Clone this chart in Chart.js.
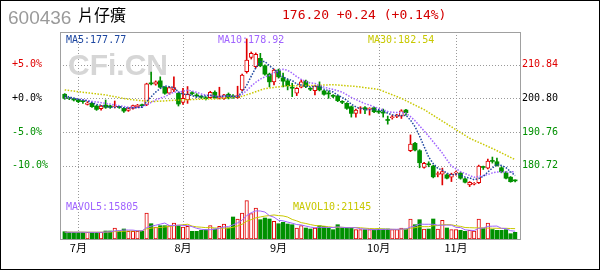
<!DOCTYPE html>
<html><head><meta charset="utf-8">
<script src="https://cdn.jsdelivr.net/npm/chart.js@4/dist/chart.umd.min.js"></script>
<style>html,body{margin:0;padding:0;background:#fff}canvas{display:block}</style>
</head><body>
<canvas id="c" width="600" height="270"></canvas>
<script>
// ---- data ----
const OPEN  = [202.0,200.9,200.7,200.3,200.0,199.0,199.3,198.5,197.7,198.8,198.35,198.2,198.2,197.8,197.2,197.8,198.3,198.7,198.8,205.4,
  205.0,206.0,204.1,202.3,203.3,202.3,199.6,200.3,202.4,201.7,201.3,200.9,201.0,202.6,200.8,200.8,202.0,201.4,201.0,203.3,
  208.7,212.95,210.2,212.7,210.5,208.0,205.7,209.2,206.9,206.0,204.0,202.3,204.1,205.9,203.7,203.1,204.5,203.0,202.3,201.6,
  201.5,199.8,199.3,198.3,196.3,197.7,197.9,197.5,198.0,196.9,196.6,194.4,195.0,195.4,195.5,197.3,185.2,187.4,185.2,180.2,
  181.2,180.6,178.1,178.2,178.0,177.3,178.5,178.5,176.8,175.0,175.2,175.7,180.3,180.0,182.2,181.9,180.1,178.6,177.3,176.3];
const HIGH  = [202.2,201.1,200.9,200.5,200.3,199.8,199.5,198.7,198.7,200.3,198.7,200.0,198.4,198.0,198.0,198.8,199.0,199.1,205.3,208.6,
  206.0,207.2,204.3,204.2,207.2,202.5,203.8,204.3,202.8,202.2,201.6,201.3,202.9,203.0,204.1,202.0,202.4,201.9,204.4,208.0,
  218.5,214.6,214.3,214.2,210.8,208.3,209.5,209.5,208.3,206.5,205.3,204.0,206.3,206.2,204.0,204.7,205.7,203.2,203.0,201.9,
  201.7,200.1,199.5,198.5,197.6,198.3,198.3,198.0,198.2,197.2,197.6,195.5,195.8,196.0,197.4,197.5,189.9,187.7,185.5,181.7,
  181.9,180.9,178.9,180.0,178.3,178.5,179.1,178.8,177.0,176.0,175.7,180.9,180.6,182.7,183.3,183.0,180.4,179.0,177.5,176.5];
const LOW   = [200.5,200.4,200.0,199.5,199.3,198.8,198.1,197.2,197.3,197.8,197.8,197.9,197.8,196.6,196.9,197.6,198.1,198.1,198.6,204.8,
  204.7,203.9,202.0,202.0,202.8,198.5,199.0,199.3,201.8,201.2,200.8,200.3,200.8,200.8,200.6,200.5,200.6,200.8,200.8,203.0,
  208.3,212.5,209.8,210.2,207.7,204.2,204.8,206.8,204.2,203.3,201.3,201.6,203.9,204.0,203.1,201.8,203.0,201.7,200.8,201.0,
  199.8,199.2,197.5,195.2,195.2,196.3,196.2,195.8,196.5,196.3,195.2,193.1,194.6,195.0,194.8,195.8,184.9,185.1,180.1,180.0,
  180.4,177.1,177.4,175.0,176.8,176.0,177.9,176.7,175.6,174.5,175.0,175.4,179.6,179.8,181.5,180.6,178.6,176.8,175.8,175.9];
const CLOSE = [200.8,200.7,200.3,199.8,199.8,199.4,198.3,197.5,198.5,198.1,198.25,198.4,198.1,197.0,197.7,198.6,198.8,198.6,205.1,205.1,
  205.7,204.1,202.3,204.0,204.0,199.1,200.8,202.0,202.2,201.5,201.1,200.7,202.6,201.0,201.3,201.8,200.9,201.2,201.6,207.7,
  212.2,214.2,213.9,210.5,208.0,205.7,209.2,207.2,205.9,204.5,203.8,203.8,205.7,204.3,203.5,204.5,203.3,202.0,202.1,201.4,
  200.1,199.6,197.8,196.3,197.3,197.9,197.7,197.7,196.8,196.7,196.4,194.2,195.2,195.6,197.1,196.5,187.2,185.4,181.6,181.4,
  181.0,177.4,178.3,179.0,177.0,178.2,178.7,177.0,175.8,175.8,175.4,180.6,180.2,182.1,182.0,180.8,178.9,177.0,175.96,176.2];
const VOLUME = [14890,13670,13670,13670,13670,13670,13670,13670,13670,16320,16320,22440,16320,20400,15710,15710,15710,15710,53040,31210,
  24480,27130,27130,27130,32640,27130,24480,25910,15710,15710,17750,18970,27130,20400,25910,30600,22440,44880,40800,53040,
  78130,51610,63240,39370,42840,40800,36110,31210,34070,30600,29170,22440,27130,22440,20400,22440,27130,25910,22440,18970,
  29170,22440,22440,22440,18970,18970,18970,18970,18970,20400,20400,20400,18970,18970,22440,20400,40800,29170,39370,20400,
  20400,40800,20400,38150,22440,18970,18970,17750,15710,17750,16320,40800,21420,32640,19380,17750,17750,18970,10810,13670];
const MA5 = [201.6,201.2,200.8,200.5,200.28,200.00,199.52,198.96,198.70,198.36,198.13,198.15,198.27,197.97,197.89,197.96,198.04,198.14,199.76,201.24,
  202.66,203.72,204.46,204.24,204.02,202.70,202.04,201.98,201.62,201.12,201.52,201.50,201.62,201.38,201.34,201.48,201.52,201.24,201.36,202.64,
  204.72,207.38,209.92,211.70,211.76,210.46,209.46,208.12,207.20,206.50,206.12,205.04,204.74,204.42,204.22,204.36,204.26,203.52,203.08,202.66,
  201.78,201.04,200.20,199.04,198.22,197.78,197.40,197.38,197.48,197.36,197.06,196.36,195.86,195.62,195.70,195.72,194.32,192.36,189.56,186.42,
  183.32,181.36,179.94,179.42,178.54,177.98,178.24,177.98,177.34,177.10,176.54,176.92,177.56,178.82,180.06,181.14,180.80,180.16,178.93,177.77];
const MA10 = [201.0,200.9,200.8,200.6,200.4,200.2,199.9,199.7,199.5,199.32,199.07,198.84,198.62,198.34,198.13,198.05,198.10,198.21,198.87,199.57,
  200.31,200.88,201.30,202.00,202.63,202.68,202.88,203.22,202.93,202.57,202.11,201.77,201.80,201.50,201.23,201.50,201.51,201.43,201.37,201.99,
  203.10,204.45,205.58,206.53,207.20,207.59,208.42,209.02,209.45,209.13,208.29,207.25,206.43,205.81,205.36,205.24,204.65,204.13,203.75,203.44,
  203.07,202.65,201.86,201.06,200.44,199.78,199.22,198.79,198.26,197.79,197.42,196.88,196.62,196.55,196.53,196.39,195.34,194.11,192.59,191.06,
  189.52,187.84,186.15,184.49,182.48,180.65,179.80,178.96,178.38,177.82,177.26,177.58,177.77,178.08,178.58,178.84,178.86,178.86,178.88,178.92];
const MA30_IDX = [0,4,9,14,19,24,29,34,39,44,49,54,59,64,69,74,79,84,89,94,99];
const MA30_VAL = [203.3,202.6,201.8,200.5,199.8,200.2,200.49,200.66,201.38,203.69,204.56,204.60,204.85,204.33,203.45,200.78,197.43,193.15,188.89,185.86,182.54];
const MAVOL5 = [14080,13870,13870,13870,13910,13670,13670,13670,13670,14200,14730,16480,17010,18360,18240,18120,16770,16650,23170,26280,
  28030,30310,32600,27420,27700,28230,27700,27460,25170,21790,19910,18810,19050,19990,22030,24600,25300,28850,32930,38350,
  47860,53690,57360,57080,55040,47570,44470,38070,37010,34560,32230,29500,28680,26360,24320,22970,23910,23660,23660,23380,
  24720,23790,23090,23090,23090,21050,20360,19670,18970,19260,19540,19830,19830,19830,20240,20240,24320,26360,30440,30030,
  30030,30030,28270,28030,28440,28150,23790,23260,18770,17830,17300,21660,22400,25790,26110,26400,21790,21300,16930,15805];
const MAVOL10 = [14280,14280,14080,14080,14080,13870,13870,13870,13870,14060,14200,15080,15340,16010,16220,16420,16630,16830,20770,22260,
  23070,23540,24620,25300,26990,28130,29010,30030,26300,24750,24070,23260,23260,22580,21910,22260,22050,23950,26460,30190,
  36230,39490,43110,45000,46700,47720,49080,47720,47040,44800,39900,36990,33370,31680,29440,27600,26700,26170,25010,23850,
  23850,23850,23380,23380,23240,22890,22070,21380,21030,21180,20300,20090,19750,19400,19750,19890,22070,23090,25130,25130,
  25130,27170,27320,29230,29230,29090,26910,25770,23400,23130,22730,22730,22830,22280,21970,21850,21730,21850,21360,21145];
const MONTH_IDX = [3,26,47,69,86];
const MONTH_LABELS = ['7月','8月','9月','10月','11月'];
const PRICE_TICKS = [180.72,190.76,200.80,210.84];
const BASE_PRICE = 200.80;
const STOCK_CODE = '600436';
const STOCK_NAME = '片仔癀';
const QUOTE_TEXT = '176.20 +0.24 (+0.14%)';
const MA_TEXT = ['MA5:177.77','MA10:178.92','MA30:182.54'];
const VOL_TEXT = ['MAVOL5:15805','MAVOL10:21145'];

// ---- styles ----
const RED = '#e00000', GREEN = '#009000';
const C_MA5 = '#1c46a0', C_MA10 = '#a064ff', C_MA30 = '#c8c800';
const MONO = '"DejaVu Sans Mono", "Liberation Mono", monospace';
const up = CLOSE.map((c,i)=> c >= OPEN[i]);
const tickColor = v => (Math.abs(v-BASE_PRICE) < 0.01 ? '#000' : (v > BASE_PRICE ? RED : GREEN));

const decor = {
  id:'decor',
  beforeDatasetsDraw(chart){
    const ctx = chart.ctx, a = chart.chartArea;
    const xs = chart.scales.x, ys = chart.scales.y;
    ctx.save();
    // dotted grid, positioned through the chart's own scales
    ctx.strokeStyle = '#999';
    ctx.lineWidth = 1;
    ctx.setLineDash([1,2]);
    ctx.beginPath();
    PRICE_TICKS.forEach(v => {
      const y = Math.round(ys.getPixelForValue(v)) + 0.5;
      ctx.moveTo(a.left, y); ctx.lineTo(a.right, y);
    });
    MONTH_IDX.forEach(v => {
      const x = Math.round(xs.getPixelForValue(v)) + 0.5;
      ctx.moveTo(x, a.top); ctx.lineTo(x, a.bottom);
    });
    ctx.stroke();
    ctx.setLineDash([]);
    // watermark
    ctx.font = 'bold 30px "Liberation Sans", Arial, sans-serif';
    ctx.fillStyle = '#d6d6d6';
    ctx.textBaseline = 'alphabetic';
    ctx.fillText('CFi.CN', 68, 75);
    ctx.restore();
  },
  afterDraw(chart){
    const ctx = chart.ctx, a = chart.chartArea;
    ctx.save();
    ctx.lineWidth = 1;
    ctx.strokeStyle = '#a0a0a0';
    ctx.strokeRect(a.left+0.5, a.top+0.5, a.right-a.left, a.bottom-a.top);
    ctx.strokeStyle = '#000';
    ctx.strokeRect(0.5, 0.5, 599, 269);
    ctx.textBaseline = 'alphabetic';
    ctx.fillStyle = '#9a9a9a';
    ctx.font = '19px "Liberation Sans", Arial, sans-serif';
    ctx.fillText(STOCK_CODE, 8, 24);
    ctx.fillStyle = '#000';
    ctx.font = '16px "Noto Sans CJK TC", "Noto Sans CJK SC", sans-serif';
    ctx.fillText(STOCK_NAME, 78, 21);
    ctx.fillStyle = '#d40000';
    ctx.font = '13px ' + MONO;
    ctx.fillText(QUOTE_TEXT, 282, 19);
    ctx.font = '10px ' + MONO;
    ctx.fillStyle = C_MA5;  ctx.fillText(MA_TEXT[0], 66, 42.5);
    ctx.fillStyle = C_MA10; ctx.fillText(MA_TEXT[1], 218, 42.5);
    ctx.fillStyle = C_MA30; ctx.fillText(MA_TEXT[2], 368, 42.5);
    ctx.fillStyle = C_MA10; ctx.fillText(VOL_TEXT[0], 66, 210);
    ctx.fillStyle = C_MA30; ctx.fillText(VOL_TEXT[1], 293, 210);
    ctx.restore();
  }
};

const idx = CLOSE.map((_,i)=>i);
new Chart(document.getElementById('c'), {
  type:'bar',
  data:{ datasets:[
    { type:'line', data: idx.map(i=>({x:i,y:MA5[i]})), yAxisID:'y', borderColor:C_MA5, borderWidth:1.5, borderDash:[1.5,1.5], pointRadius:0, order:1 },
    { type:'line', data: idx.map(i=>({x:i,y:MA10[i]})), yAxisID:'y', borderColor:C_MA10, borderWidth:1.5, borderDash:[1.5,1.5], pointRadius:0, order:1 },
    { type:'line', data: MA30_IDX.map((x,k)=>({x, y:MA30_VAL[k]})), yAxisID:'y', borderColor:C_MA30, borderWidth:1.5, borderDash:[1.5,1.5], pointRadius:0, order:1 },
    { type:'line', data: idx.map(i=>({x:i,y:MAVOL5[i]})), yAxisID:'v', borderColor:C_MA10, borderWidth:1, pointRadius:0, order:1 },
    { type:'line', data: idx.map(i=>({x:i,y:MAVOL10[i]})), yAxisID:'v', borderColor:C_MA30, borderWidth:1, pointRadius:0, order:1 },
    { data: idx.map(i=>({x:i,y:[OPEN[i],CLOSE[i]]})), yAxisID:'y', grouped:false, barThickness:4, minBarLength:1,
      backgroundColor: idx.map(i=> up[i] ? '#fff' : GREEN), borderColor: idx.map(i=> up[i] ? RED : GREEN),
      borderWidth: idx.map(i=> up[i] ? 1 : 0), borderSkipped:false, order:3 },
    { data: idx.map(i=>({x:i,y:[LOW[i],HIGH[i]]})), yAxisID:'y', grouped:false, barThickness:1,
      backgroundColor: idx.map(i=> up[i] ? RED : GREEN), borderWidth:0, order:4 },
    { data: idx.map(i=>({x:i,y:VOLUME[i]})), yAxisID:'v', grouped:false, barThickness:3.5,
      backgroundColor: idx.map(i=> up[i] ? '#fff' : GREEN), borderColor: idx.map(i=> up[i] ? RED : GREEN),
      borderWidth: idx.map(i=> up[i] ? 1 : 0), borderSkipped:false, order:2 }
  ]},
  options:{
    responsive:false, devicePixelRatio:1, animation:false, events:[],
    layout:{ padding:{ left:12, right:1, top:32, bottom:1 } },
    plugins:{ legend:{display:false}, tooltip:{enabled:false} },
    scales:{
      x:{ type:'linear', min:-1.033, max:100.07, position:'bottom', offset:false,
        afterBuildTicks: s => { s.ticks = MONTH_IDX.map(v=>({value:v})); },
        afterFit: s => { s.height = 30; },
        ticks:{ autoSkip:false, maxRotation:0, padding:2, color:'#000',
          font:{ family:'"Noto Sans CJK JP", "Noto Sans CJK SC", sans-serif', size:11 },
          callback: v => MONTH_LABELS[MONTH_IDX.indexOf(v)] },
        grid:{ display:false, drawTicks:false },
        border:{ display:false } },
      y:{ type:'linear', position:'left', min:158.89, max:220.55,
        afterBuildTicks: s => { s.ticks = PRICE_TICKS.map(v=>({value:v})); },
        afterFit: s => { s.width = 48; },
        ticks:{ crossAlign:'far', padding:0, font:{ family:MONO, size:10 },
          color: c => tickColor(c.tick.value),
          callback: v => { const p = Math.round((v/BASE_PRICE-1)*1000)/10; return (p >= 0 ? '+' : '') + p.toFixed(1) + '%'; } },
        grid:{ display:false, drawTicks:false },
        border:{ display:false } },
      y2:{ type:'linear', position:'right', min:158.89, max:220.55,
        afterBuildTicks: s => { s.ticks = PRICE_TICKS.map(v=>({value:v})); },
        afterFit: s => { s.width = 79; },
        ticks:{ padding:2, font:{ family:MONO, size:10 }, color: c => tickColor(c.tick.value), callback: v => v.toFixed(2) },
        grid:{ display:false, drawTicks:false }, border:{ display:false } },
      v:{ type:'linear', display:false, min:0, max:422280 }
    }
  },
  plugins:[decor]
});
</script>
</body></html>
